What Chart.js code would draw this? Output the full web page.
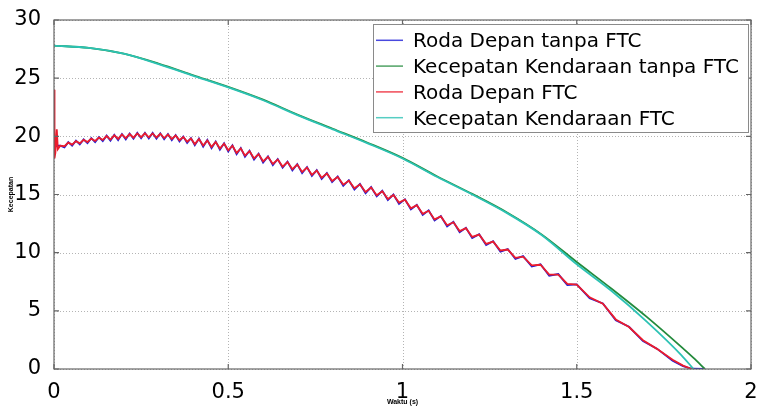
<!DOCTYPE html>
<html>
<head>
<meta charset="utf-8">
<script src="https://cdn.jsdelivr.net/npm/chart.js@4/dist/chart.umd.min.js"></script>
<style>
  html, body { margin: 0; padding: 0; background: #fff; }
  #wrap { width: 761px; height: 407px; }
</style>
</head>
<body>
<div id="wrap"><canvas id="grafik" width="761" height="407"></canvas></div>
<script>
// nama seri (urutan legenda)
const seriesLabels = ['Roda Depan tanpa FTC', 'Kecepatan Kendaraan tanpa FTC', 'Roda Depan FTC', 'Kecepatan Kendaraan FTC'];
const seriesColors = ['#1c1cd6', '#238a3c', '#ec1c2c', '#2cc2b4'];

// kecepatan roda depan
const tRoda = [0, 0.0015, 0.004, 0.008, 0.011, 0.018,
  0.030, 0.041, 0.052, 0.063, 0.074, 0.085, 0.096, 0.107, 0.118, 0.129, 0.140, 0.151, 0.162, 0.173, 0.184, 0.195, 0.206, 0.217, 0.228, 0.239, 0.250, 0.261, 0.272, 0.283, 0.294, 0.305, 0.316, 0.327, 0.338, 0.349, 0.360, 0.371, 0.382, 0.393, 0.404,
  0.416, 0.428, 0.440, 0.452, 0.464, 0.476, 0.488, 0.500, 0.512, 0.524, 0.536, 0.548, 0.561, 0.574, 0.587, 0.600,
  0.614, 0.628, 0.642, 0.656, 0.670, 0.684, 0.698, 0.712, 0.726, 0.740, 0.754, 0.768, 0.783, 0.798,
  0.814, 0.830, 0.846, 0.862, 0.878, 0.894, 0.910, 0.926, 0.942, 0.958, 0.974, 0.990,
  1.007, 1.024, 1.041, 1.058, 1.075, 1.092, 1.110, 1.128, 1.146, 1.164, 1.182, 1.200,
  1.220, 1.240, 1.260, 1.281, 1.302, 1.324, 1.346,
  1.371, 1.396, 1.421, 1.447, 1.473, 1.500,
  1.537, 1.575, 1.612, 1.650, 1.690, 1.730, 1.775, 1.805, 1.830, 1.866];

const vRodaFTC = [24.0, 18.1, 18.6, 20.6, 18.9, 19.2,
  19.15, 19.46, 19.29, 19.59, 19.40, 19.70, 19.51, 19.80, 19.60, 19.89, 19.69, 20.02, 19.72, 20.09, 19.78, 20.16, 19.84, 20.20, 19.89, 20.25, 19.93, 20.26, 19.92, 20.25, 19.90, 20.22, 19.85, 20.15, 19.77, 20.07, 19.67, 19.94, 19.54, 19.81, 19.33,
  19.77, 19.21, 19.65, 19.09, 19.52, 18.95, 19.37, 18.80, 19.19, 18.57, 18.96, 18.34, 18.72, 18.10, 18.47, 17.85,
  18.24, 17.63, 18.01, 17.40, 17.79, 17.18, 17.57, 16.94, 17.32, 16.69, 17.06, 16.44, 16.80, 16.17,
  16.51, 15.85, 16.19, 15.53, 15.87, 15.21, 15.60, 14.94, 15.28, 14.62, 14.96, 14.30,
  14.55, 13.81, 14.08, 13.34, 13.60, 12.86, 13.11, 12.36, 12.61, 11.85, 12.10, 11.35,
  11.55, 10.75, 10.95, 10.19, 10.27, 9.56, 9.66,
  8.91, 8.96, 8.12, 8.12, 7.32, 7.25,
  6.16, 5.61, 4.26, 3.61, 2.47, 1.73, 0.79, 0.29, 0, null];

const vRodaTanpaFTC = [19.0, 19.1, 19.1, 19.2, 19.2, 19.2,
  19.05, 19.50, 19.19, 19.63, 19.30, 19.74, 19.41, 19.84, 19.50, 19.93, 19.59, 20.06, 19.62, 20.13, 19.68, 20.20, 19.74, 20.24, 19.79, 20.29, 19.83, 20.30, 19.82, 20.29, 19.80, 20.26, 19.75, 20.19, 19.67, 20.11, 19.57, 19.98, 19.44, 19.85, 19.23,
  19.81, 19.11, 19.69, 18.99, 19.56, 18.85, 19.41, 18.70, 19.23, 18.47, 19.00, 18.24, 18.76, 18.00, 18.51, 17.75,
  18.28, 17.53, 18.05, 17.30, 17.83, 17.08, 17.61, 16.84, 17.36, 16.59, 17.10, 16.34, 16.84, 16.07,
  16.55, 15.75, 16.23, 15.43, 15.91, 15.11, 15.64, 14.84, 15.32, 14.52, 15.00, 14.20,
  14.59, 13.71, 14.12, 13.24, 13.64, 12.76, 13.15, 12.26, 12.65, 11.75, 12.14, 11.25,
  11.59, 10.65, 10.99, 10.09, 10.31, 9.46, 9.70,
  8.81, 9.00, 8.02, 8.16, 7.22, 7.27,
  6.08, 5.63, 4.18, 3.63, 2.40, 1.75, 0.72, 0.25, 0.02, 0];

// kecepatan kendaraan
const tKendaraan = [0, 0.1, 0.2, 0.3, 0.4, 0.5, 0.6, 0.7, 0.8, 0.9, 1.0, 1.1, 1.2, 1.3, 1.4, 1.5, 1.6, 1.7, 1.8, 1.835, 1.868];
const vKendaraanFTC = [27.8, 27.6, 27.1, 26.2, 25.2, 24.2, 23.1, 21.8, 20.6, 19.4, 18.1, 16.5, 15.0, 13.4, 11.5, 9.0, 6.7, 4.1, 1.2, 0, null];
const vKendaraanTanpaFTC = [27.8, 27.6, 27.1, 26.25, 25.25, 24.25, 23.15, 21.85, 20.65, 19.45, 18.15, 16.55, 15.05, 13.45, 11.55, 9.2, 6.9, 4.5, 1.9, 0.95, 0];

const xTicks = [0, 0.5, 1, 1.5, 2];
const xTickLabels = ['0', '0.5', '1', '1.5', '2'];
const yTicks = [0, 5, 10, 15, 20, 25, 30];
const yTickLabels = ['0', '5', '10', '15', '20', '25', '30'];

function pasang(ts, vs) {
  return ts.map((t, i) => ({ x: t, y: vs[i] }));
}

// grid titik-titik
const gridTitik = {
  id: 'gridTitik',
  beforeDatasetsDraw(chart) {
    const { ctx, chartArea: a, scales } = chart;
    ctx.save();
    ctx.strokeStyle = '#b4b4b4';
    ctx.lineWidth = 1;
    ctx.setLineDash([1, 2]);
    ctx.beginPath();
    xTicks.forEach(v => {
      const px = Math.round(scales.x.getPixelForValue(v)) + 0.5;
      ctx.moveTo(px, a.top); ctx.lineTo(px, a.bottom);
    });
    yTicks.forEach(v => {
      const py = Math.round(scales.y.getPixelForValue(v)) + 0.5;
      ctx.moveTo(a.left, py); ctx.lineTo(a.right, py);
    });
    ctx.stroke();
    ctx.restore();
  }
};

// bingkai sumbu + tanda tick ke dalam (gaya matlab)
const bingkai = {
  id: 'bingkai',
  afterDatasetsDraw(chart) {
    const { ctx, chartArea: a, scales } = chart;
    ctx.save();
    ctx.strokeStyle = '#666';
    ctx.lineWidth = 1.2;
    ctx.strokeRect(a.left, a.top, a.right - a.left, a.bottom - a.top);
    ctx.beginPath();
    xTicks.forEach(v => {
      const px = scales.x.getPixelForValue(v);
      ctx.moveTo(px, a.bottom); ctx.lineTo(px, a.bottom - 5);
      ctx.moveTo(px, a.top); ctx.lineTo(px, a.top + 5);
    });
    yTicks.forEach(v => {
      const py = scales.y.getPixelForValue(v);
      ctx.moveTo(a.left, py); ctx.lineTo(a.left + 5, py);
      ctx.moveTo(a.right, py); ctx.lineTo(a.right - 5, py);
    });
    ctx.stroke();
    ctx.restore();
  }
};

// legenda dalam kotak di pojok kanan atas
const legendaKotak = {
  id: 'legendaKotak',
  afterDraw(chart) {
    const ctx = chart.ctx;
    const x0 = 373, y0 = 24, w = 375, h = 108;
    ctx.save();
    ctx.fillStyle = '#fff';
    ctx.fillRect(x0, y0, w, h);
    ctx.strokeStyle = '#8a8a8a';
    ctx.lineWidth = 1;
    ctx.strokeRect(x0 + 0.5, y0 + 0.5, w, h);
    ctx.font = '20px "DejaVu Sans"';
    ctx.textBaseline = 'alphabetic';
    chart.data.datasets.forEach((ds, i) => {
      const base = 47.3 + 25.8 * i;
      const mid = base - 7;
      ctx.strokeStyle = ds.borderColor;
      ctx.globalAlpha = 0.8;
      ctx.lineWidth = 1.5;
      ctx.beginPath();
      ctx.moveTo(376, mid); ctx.lineTo(403, mid);
      ctx.stroke();
      ctx.globalAlpha = 1;
      ctx.fillStyle = '#000';
      ctx.fillText(ds.label, 413, base);
    });
    ctx.restore();
  }
};

const chart = new Chart(document.getElementById('grafik'), {
  type: 'line',
  data: {
    datasets: [
      { label: seriesLabels[0], data: pasang(tRoda, vRodaTanpaFTC), borderColor: seriesColors[0], order: 4 },
      { label: seriesLabels[1], data: pasang(tKendaraan, vKendaraanTanpaFTC), borderColor: seriesColors[1], order: 3, cubicInterpolationMode: 'monotone' },
      { label: seriesLabels[2], data: pasang(tRoda, vRodaFTC), borderColor: seriesColors[2], order: 2 },
      { label: seriesLabels[3], data: pasang(tKendaraan, vKendaraanFTC), borderColor: seriesColors[3], order: 1, cubicInterpolationMode: 'monotone' }
    ]
  },
  options: {
    responsive: false,
    animation: false,
    devicePixelRatio: 1,
    layout: { padding: { top: 20, right: 10, left: 0, bottom: 0 } },
    elements: {
      point: { radius: 0 },
      line: { borderWidth: 1.8, tension: 0, fill: false }
    },
    plugins: {
      legend: { display: false },
      tooltip: { enabled: false }
    },
    scales: {
      x: {
        type: 'linear', min: 0, max: 2,
        afterBuildTicks: s => { s.ticks = xTicks.map(v => ({ value: v })); },
        afterFit: s => { s.height = 38; },
        grid: { display: false },
        border: { display: false },
        ticks: { color: '#000', padding: 3, maxRotation: 0, font: { family: 'DejaVu Sans', size: 21 },
          callback: (v, i) => xTickLabels[i] },
        title: { display: true, text: 'Waktu (s)', color: '#000', padding: { top: 0, bottom: 1 }, font: { family: 'Liberation Sans', size: 7, weight: 'bold' } }
      },
      y: {
        min: 0, max: 30,
        afterBuildTicks: s => { s.ticks = yTicks.map(v => ({ value: v })); },
        afterFit: s => { s.width = 54; },
        grid: { display: false },
        border: { display: false },
        ticks: { color: '#000', padding: 5, font: { family: 'DejaVu Sans', size: 21 },
          callback: (v, i) => yTickLabels[i] },
        title: { display: true, text: 'Kecepatan', color: '#000', padding: { top: 7, bottom: 0 }, font: { family: 'Liberation Sans', size: 7, weight: 'bold' } }
      }
    }
  },
  plugins: [gridTitik, bingkai, legendaKotak]
});
</script>
</body>
</html>
